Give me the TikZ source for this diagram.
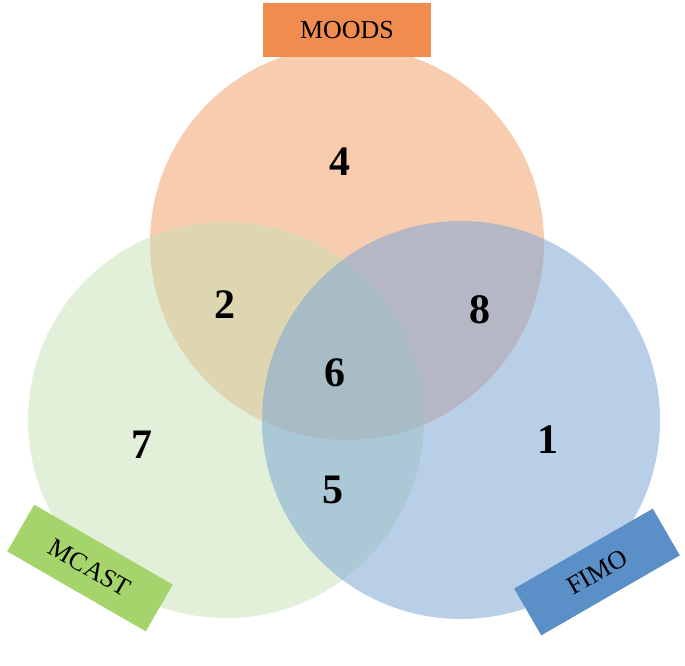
\documentclass[tikz,border=0pt]{standalone}
\usepackage{fontspec}
\setmainfont{Liberation Serif}
\begin{document}
\begin{tikzpicture}[x=1pt,y=-1pt,
  num/.style={font=\fontsize{42}{44}\selectfont\bfseries},
  lab/.style={font=\fontsize{26}{28}\selectfont, minimum width=160pt, minimum height=54pt, inner sep=0pt}]
\useasboundingbox (0,0) rectangle (685,665);
\definecolor{co}{HTML}{F4B183}
\definecolor{cg}{HTML}{C5E0B4}
\definecolor{cb}{HTML}{7FA8D6}
\fill[co,fill opacity=0.65] (347,243) circle (197);
\fill[cg,fill opacity=0.5] (226,420) circle (198);
\fill[cb,fill opacity=0.55] (461,420) circle (199);
\node[lab,fill={rgb,255:red,240;green,140;blue,80},minimum width=168pt] (moods) at (347,30) {MOODS};
\node[lab,fill={rgb,255:red,166;green,212;blue,108},rotate=-30] (mcast) at (90,568) {MCAST};
\node[lab,fill={rgb,255:red,91;green,143;blue,200},rotate=30] (fimo) at (597,572) {FIMO};
\node[num] (n4) at (340,162) {4};
\node[num] (n2) at (225,305) {2};
\node[num] (n8) at (480,310) {8};
\node[num] (n6) at (335,373) {6};
\node[num] (n7) at (142,445) {7};
\node[num] (n1) at (548,440) {1};
\node[num] (n5) at (333,490) {5};
\end{tikzpicture}
\end{document}
